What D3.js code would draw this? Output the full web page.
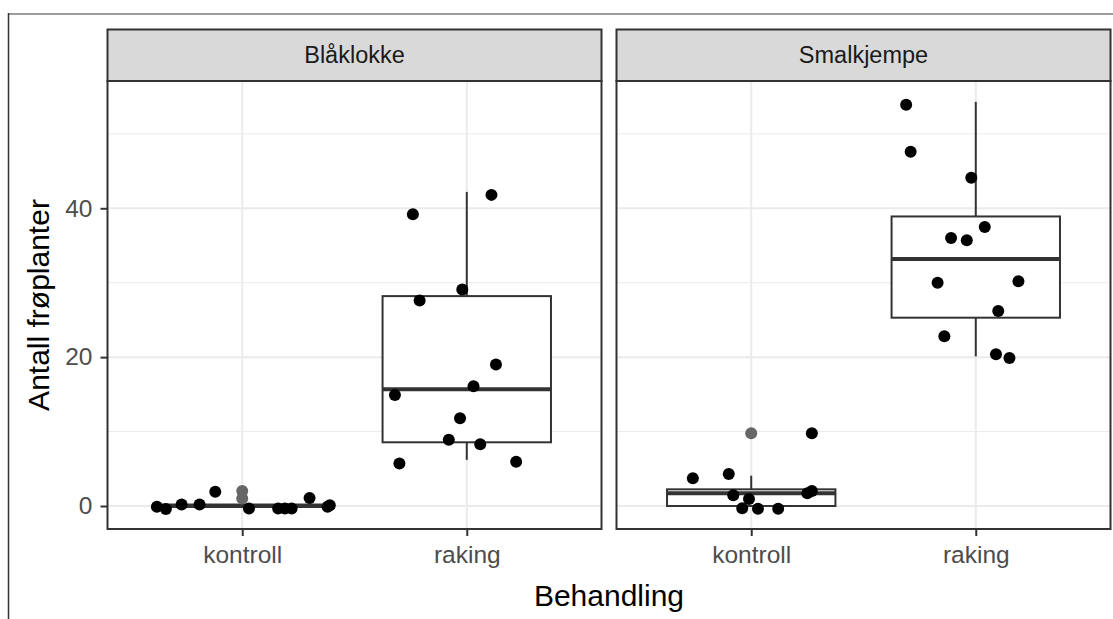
<!DOCTYPE html>
<html>
<head>
<meta charset="utf-8">
<script src="https://cdn.jsdelivr.net/npm/d3@7"></script>
<style>
  html, body { margin: 0; padding: 0; background: #fff; }
  svg { display: block; font-family: "Liberation Sans", Arial, sans-serif; }
</style>
</head>
<body>
<div id="chart"></div>
<script>
// facets and categories
const facets = ['Blåklokke', 'Smalkjempe'];
const treatments = ['kontroll', 'raking'];
const yTicks = [0, 20, 40];
const yMinorTicks = [10, 30, 50];

// jittered points: [x jitter (in category steps), antall]
const blaaKontroll = [[-0.38, -0.1], [-0.34, -0.4], [-0.27, 0.2], [-0.19, 0.2], [-0.12, 1.9], [0.03, -0.35],
  [0.16, -0.35], [0.19, -0.35], [0.22, -0.35], [0.3, 1.07], [0.39, 0.1], [0.38, -0.1]];
const blaaRaking = [[0.11, 41.8], [-0.24, 39.2], [-0.02, 29.1], [-0.21, 27.6], [0.13, 19.0], [0.03, 16.1],
  [-0.32, 14.9], [-0.03, 11.8], [-0.08, 8.9], [0.06, 8.3], [-0.3, 5.7], [0.22, 5.95]];
const smalKontroll = [[-0.26, 3.72], [-0.1, 4.3], [-0.08, 1.43], [-0.01, 0.94], [-0.04, -0.31], [0.03, -0.36],
  [0.12, -0.36], [0.25, 1.7], [0.27, 2.0], [0.27, 9.76]];
const smalRaking = [[-0.31, 53.9], [-0.29, 47.6], [-0.02, 44.1], [0.04, 37.5], [-0.11, 36.0], [-0.04, 35.7],
  [-0.17, 30.0], [0.19, 30.2], [0.1, 26.2], [-0.14, 22.8], [0.09, 20.4], [0.15, 19.9]];

// box stats: [lower whisker, q1, median, q3, upper whisker]
const boxBlaaKontroll = [0, 0, 0, 0.2, 0.2];
const boxBlaaRaking = [6.2, 8.56, 15.7, 28.2, 42.2];
const boxSmalKontroll = [0, 0, 1.7, 2.24, 4.07];
const boxSmalRaking = [20.1, 25.3, 33.2, 38.9, 54.3];

// outliers from the boxplots
const outBlaaKontroll = [1, 2];
const outSmalKontroll = [9.76];

const groups = [
  { facet: 0, cat: 'kontroll', pts: blaaKontroll, box: boxBlaaKontroll, out: outBlaaKontroll },
  { facet: 0, cat: 'raking', pts: blaaRaking, box: boxBlaaRaking, out: [] },
  { facet: 1, cat: 'kontroll', pts: smalKontroll, box: boxSmalKontroll, out: outSmalKontroll },
  { facet: 1, cat: 'raking', pts: smalRaking, box: boxSmalRaking, out: [] }
];

const W = 1113, H = 619;
const panelLefts = [107.5, 616.5];
const panelW = 494;
const stripTop = 29.5, stripBottom = 81, panelBottom = 529;

const svg = d3.select('#chart').append('svg')
  .attr('width', W)
  .attr('height', H);

// outer frame
svg.append('line').attr('x1', 8).attr('x2', W).attr('y1', 14).attr('y2', 14)
  .attr('stroke', '#9c9c9c').attr('stroke-width', 2);
svg.append('line').attr('x1', 8.5).attr('x2', 8.5).attr('y1', 13).attr('y2', H)
  .attr('stroke', '#333').attr('stroke-width', 1.5);

// shared y scale
const y = d3.scaleLinear().domain([-3.09, 57.1]).range([panelBottom, stripBottom]);

facets.forEach(function(name, i) {
  const left = panelLefts[i];
  const x = d3.scalePoint().domain(treatments).range([left, left + panelW]).padding(0.6);
  const step = x.step();
  const g = svg.append('g');

  // minor grid
  g.selectAll('.minor').data(yMinorTicks).enter().append('line')
    .attr('x1', left).attr('x2', left + panelW)
    .attr('y1', d => y(d)).attr('y2', d => y(d))
    .attr('stroke', '#ebebeb').attr('stroke-width', 1);
  // major grid
  g.selectAll('.major').data(yTicks).enter().append('line')
    .attr('x1', left).attr('x2', left + panelW)
    .attr('y1', d => y(d)).attr('y2', d => y(d))
    .attr('stroke', '#ebebeb').attr('stroke-width', 2);
  g.selectAll('.vmajor').data(treatments).enter().append('line')
    .attr('x1', d => x(d)).attr('x2', d => x(d))
    .attr('y1', stripBottom).attr('y2', panelBottom)
    .attr('stroke', '#ebebeb').attr('stroke-width', 2);

  const grp = groups.filter(d => d.facet === i);
  const bw = step * 0.75;

  // boxplots
  grp.forEach(function(d) {
    const cx = x(d.cat);
    const b = d.box;
    g.append('line').attr('x1', cx).attr('x2', cx).attr('y1', y(b[3])).attr('y2', y(b[4]))
      .attr('stroke', '#333').attr('stroke-width', 2);
    g.append('line').attr('x1', cx).attr('x2', cx).attr('y1', y(b[0])).attr('y2', y(b[1]))
      .attr('stroke', '#333').attr('stroke-width', 2);
    g.append('rect').attr('x', cx - bw / 2).attr('width', bw)
      .attr('y', y(b[3])).attr('height', Math.max(0, y(b[1]) - y(b[3])))
      .attr('fill', '#fff').attr('stroke', '#333').attr('stroke-width', 2);
    g.append('line').attr('x1', cx - bw / 2).attr('x2', cx + bw / 2).attr('y1', y(b[2])).attr('y2', y(b[2]))
      .attr('stroke', '#333').attr('stroke-width', 4);
    // outliers
    g.selectAll(null).data(d.out).enter().append('circle')
      .attr('cx', cx).attr('cy', v => y(v)).attr('r', 6)
      .attr('fill', '#666');
  });

  // jittered points
  grp.forEach(function(d) {
    g.selectAll(null).data(d.pts).enter().append('circle')
      .attr('cx', p => x(d.cat) + p[0] * step)
      .attr('cy', p => y(p[1]))
      .attr('r', 6)
      .attr('fill', '#000');
  });

  // panel border
  g.append('rect').attr('x', left).attr('y', stripBottom).attr('width', panelW).attr('height', panelBottom - stripBottom)
    .attr('fill', 'none').attr('stroke', '#333').attr('stroke-width', 2);

  // strip
  g.append('rect').attr('x', left).attr('y', stripTop).attr('width', panelW).attr('height', stripBottom - stripTop)
    .attr('fill', '#d9d9d9').attr('stroke', '#333').attr('stroke-width', 2);
  g.append('text').attr('x', left + panelW / 2).attr('y', (stripTop + stripBottom) / 2)
    .attr('dy', '0.35em').attr('text-anchor', 'middle')
    .attr('font-size', 23.5).attr('fill', '#1a1a1a').text(name);

  // x axis
  const xAxis = d3.axisBottom(x).tickSize(7).tickPadding(10);
  const ax = g.append('g').attr('transform', 'translate(0,' + panelBottom + ')').call(xAxis);
  ax.select('.domain').remove();
  ax.selectAll('line').attr('stroke', '#333').attr('stroke-width', 2);
  ax.selectAll('text').attr('font-size', 24.5).attr('fill', '#4d4d4d').attr('font-family', null);

  // y axis only on the first panel
  if (i === 0) {
    const yAxis = d3.axisLeft(y).tickValues(yTicks).tickSize(7).tickPadding(8);
    const ay = g.append('g').attr('transform', 'translate(' + left + ',0)').call(yAxis);
    ay.select('.domain').remove();
    ay.selectAll('line').attr('stroke', '#333').attr('stroke-width', 2);
    ay.selectAll('text').attr('font-size', 24.5).attr('fill', '#4d4d4d').attr('font-family', null);
  }
});

// axis titles
svg.append('text')
  .attr('x', (panelLefts[0] + panelLefts[1] + panelW) / 2).attr('y', 606)
  .attr('text-anchor', 'middle').attr('font-size', 30).attr('fill', '#000')
  .text('Behandling');
svg.append('text')
  .attr('transform', 'translate(49,' + (stripBottom + panelBottom) / 2 + ') rotate(-90)')
  .attr('text-anchor', 'middle').attr('font-size', 30).attr('fill', '#000')
  .text('Antall frøplanter');
</script>
</body>
</html>
